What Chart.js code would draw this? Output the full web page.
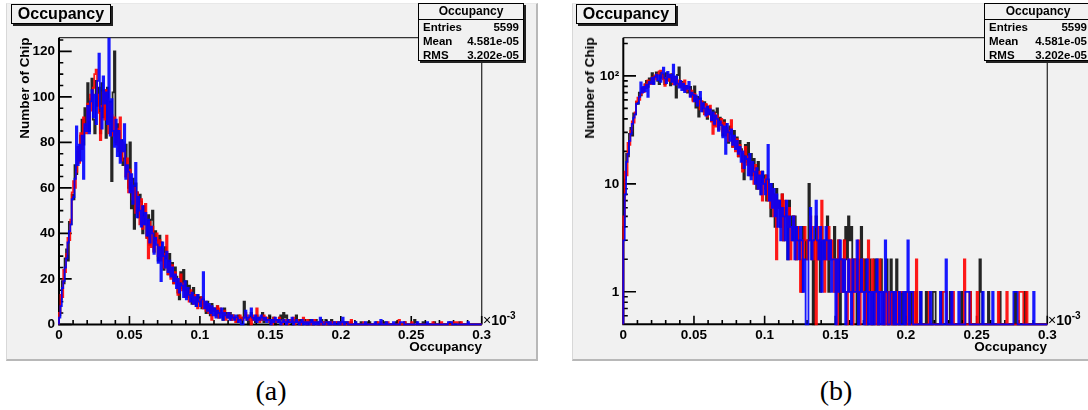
<!DOCTYPE html>
<html>
<head>
<meta charset="utf-8">
<script src="https://cdn.jsdelivr.net/npm/chart.js@4.4.1/dist/chart.umd.min.js"></script>
<style>
  body { margin:0; background:#fff; width:1088px; height:410px; overflow:hidden; position:relative; font-family:"Liberation Sans", Arial, sans-serif; }
  .pad { position:absolute; top:3px; width:529px; height:355px; background:#f1f1f1; border-left:1px solid #d8d8d8; border-top:1px solid #e8e8e8; border-right:2px solid #b8b8b8; border-bottom:2px solid #b8b8b8; }
  canvas { position:absolute; top:3px; z-index:1; }
  .t { position:absolute; z-index:2; font-weight:bold; color:#000; white-space:nowrap; font-size:13.5px; line-height:16px; }
  .ytitle { transform:translate(-50%,-50%) rotate(-90deg); }
  .xtitle { transform:translate(-100%,-50%); }
  .titlebox { position:absolute; z-index:2; top:4px; width:100px; height:20px; box-sizing:border-box; border:1px solid #000; box-shadow:2px 2px 0 #222; background:#f1f1f1; font-weight:bold; font-size:16px; text-align:center; line-height:18px; }
  .stats { position:absolute; z-index:2; top:3px; height:58px; box-sizing:border-box; border:1px solid #000; box-shadow:2px 2px 0 #222; background:#f1f1f1; font-weight:bold; }
  .stats .hd { height:15px; line-height:15px; text-align:center; font-size:12px; border-bottom:1px solid #000; }
  .stats .row { display:flex; justify-content:space-between; height:14px; line-height:14px; font-size:11.5px; padding:0 4px; }
  .expo { position:absolute; z-index:2; font-weight:bold; font-size:14px; line-height:14px; }
  .expo sup { font-size:10px; vertical-align:6px; line-height:0; }
  .cap { position:absolute; z-index:2; top:375px; transform:translateX(-50%); font-family:"Liberation Serif","Times New Roman",serif; font-size:28px; line-height:32px; }
</style>
</head>
<body>
<div class="pad" style="left:6px"></div>
<div class="pad" style="left:572px"></div>
<canvas id="linChart" width="531" height="357" style="left:6px"></canvas>
<canvas id="logChart" width="531" height="357" style="left:572px"></canvas>

<div class="titlebox" style="left:11px">Occupancy</div>
<div class="titlebox" style="left:576px">Occupancy</div>

<div class="stats" style="left:418px;width:106px">
  <div class="hd">Occupancy</div>
  <div class="row"><span>Entries</span><span>5599</span></div>
  <div class="row"><span>Mean</span><span>4.581e-05</span></div>
  <div class="row"><span>RMS</span><span>3.202e-05</span></div>
</div>
<div class="stats" style="left:984px;width:108px">
  <div class="hd">Occupancy</div>
  <div class="row"><span>Entries</span><span>5599</span></div>
  <div class="row"><span>Mean</span><span>4.581e-05</span></div>
  <div class="row"><span>RMS</span><span>3.202e-05</span></div>
</div>

<div class="t ytitle" style="left:25px;top:88px">Number of Chip</div>
<div class="t ytitle" style="left:590px;top:88px">Number of Chip</div>
<div class="t xtitle" style="left:482px;top:347px">Occupancy</div>
<div class="t xtitle" style="left:1047px;top:347px">Occupancy</div>
<div class="expo" style="left:483px;top:313px"><span style="font-weight:normal">×</span>10<sup>-3</sup></div>
<div class="expo" style="left:1048px;top:313px"><span style="font-weight:normal">×</span>10<sup>-3</sup></div>

<div class="cap" style="left:271px">(a)</div>
<div class="cap" style="left:836px">(b)</div>

<script>
// binning, in units of 10^-3
const xMin = 0;
const xMax = 0.3;
const nBins = 300;

// bin contents, 300 bins each
const blackCounts = [
  4,11,19,18,29,33,28,45,44,57, 55,70,66,76,72,83,90,79,95,86,
  106,85,99,108,90,84,107,96,104,84, 106,91,103,82,104,89,98,63,102,120,
  80,88,84,74,81,70,73,79,66,60, 80,51,64,42,62,58,47,57,54,40,
  52,44,38,48,35,46,50,32,41,37, 28,39,36,31,24,34,29,22,31,26,
  27,18,25,21,14,11,23,16,24,15, 19,12,17,14,9,16,12,8,13,10,
  12,7,11,9,5,10,8,4,9,6, 7,4,8,3,6,5,2,7,4,5,
  3,5,2,4,3,2,1,4,3,2, 3,10,4,2,0,3,5,2,3,1,
  4,2,3,2,5,1,3,2,2,4, 1,2,3,0,2,1,3,4,2,5,
  3,4,1,2,2,0,2,1,4,2, 1,2,0,1,2,1,0,2,1,2,
  0,1,2,1,0,1,2,0,1,2, 0,1,0,2,1,0,0,1,0,1,
  0,0,1,0,1,0,0,1,0,0, 1,0,0,0,1,0,0,0,0,1,
  1,0,0,0,0,1,0,0,0,0, 0,1,0,0,0,0,0,0,0,1,
  0,0,0,0,0,1,0,0,0,0, 0,0,2,1,0,0,0,0,1,0,
  0,0,0,0,0,0,1,0,0,0, 0,0,0,0,0,0,0,1,0,0,
  0,0,0,0,1,0,0,0,0,0, 0,0,0,0,0,0,0,0,0,0
];
const redCounts = [
  5,13,12,24,23,31,38,37,46,58, 63,60,67,78,71,84,77,91,87,84,
  97,90,101,94,104,110,112,101,93,81, 96,102,90,103,99,84,97,92,83,91,
  79,86,76,91,72,80,76,65,73,58, 68,63,55,60,49,58,52,44,55,42,
  47,53,38,29,45,34,43,32,37,40, 30,37,28,33,25,31,39,22,27,20,
  26,18,23,20,13,19,22,15,18,12, 16,13,10,15,12,9,13,10,7,11,
  9,12,7,10,6,9,5,8,2,7, 6,4,8,3,7,5,4,6,2,4,
  5,3,2,4,3,1,3,2,4,3, 2,3,5,4,2,3,0,4,2,3,
  7,2,1,3,2,4,2,3,2,1, 2,0,3,2,1,2,3,1,0,2,
  1,2,0,1,2,1,3,0,1,2, 1,0,1,3,1,0,2,1,0,1,
  0,2,1,0,0,1,0,1,0,1, 0,0,1,0,1,0,1,1,1,0,
  0,1,0,0,0,1,0,2,0,0, 0,0,0,0,0,0,1,0,0,0,
  0,0,0,0,0,0,1,1,1,0, 0,0,0,1,0,0,0,0,0,0,
  0,2,0,0,0,1,0,0,0,0, 1,0,0,0,0,0,0,0,0,0,
  0,0,0,0,0,1,0,0,0,0, 0,1,0,0,0,0,0,0,0,0,
  1,1,1,0,0,1,0,0,0,0, 0,0,0,0,0,0,0,0,0,0
];
const blueCounts = [
  3,8,16,19,25,29,36,41,44,55, 56,64,87,70,79,72,83,64,88,85,
  96,84,98,103,91,101,88,107,119,95, 86,109,97,102,88,127,83,99,85,78,
  90,74,85,71,81,76,88,64,70,67, 58,66,53,61,71,47,56,50,43,52,
  44,49,39,46,36,43,40,31,38,35, 27,34,19,36,30,25,32,23,28,21,
  25,19,22,16,20,14,18,17,12,19, 11,16,13,10,14,9,12,8,13,10,
  8,11,23,7,10,6,9,5,8,4, 7,3,6,5,3,7,2,5,4,3,
  5,2,4,3,2,4,3,1,2,0, 0,3,6,2,3,4,7,3,2,4,
  1,3,2,4,3,2,3,1,2,2, 0,2,1,3,2,1,2,0,1,2,
  1,0,2,1,1,3,0,1,2,1, 0,1,2,0,1,0,1,0,1,2,
  0,1,0,1,0,3,1,0,0,1, 1,0,1,0,0,1,0,0,1,0,
  1,3,0,1,1,0,0,0,0,0, 1,0,0,0,0,0,0,1,0,0,
  0,0,0,0,1,0,0,0,2,0, 0,0,1,0,0,0,0,1,0,0,
  0,0,1,1,1,0,0,0,0,0, 0,0,0,0,1,0,0,0,0,0,
  0,1,0,0,0,0,0,0,0,0, 0,0,0,0,0,0,1,1,1,0,
  0,0,0,0,0,0,0,0,0,0, 1,0,0,0,0,0,0,0,0,0
];

// axis ticks
const xMajor = [0, 0.05, 0.1, 0.15, 0.2, 0.25, 0.3];
const xLabels = ['0', '0.05', '0.1', '0.15', '0.2', '0.25', '0.3'];
const yLinMajor = [0, 20, 40, 60, 80, 100, 120];
const yLinLabels = ['0', '20', '40', '60', '80', '100', '120'];
const yLogMajor = [1, 10, 100];
const yLogLabels = ['1', '10', '10²'];
const yLinMax = 126;
const yLogMin = 0.5;
const yLogMax = 226;

Chart.defaults.font.family = '"Liberation Sans", Arial, sans-serif';

const tickFont = { size: 13.5, weight: 'bold' };

function histPoints(counts, floor) {
  const w = (xMax - xMin) / nBins;
  const pts = [{ x: xMin, y: floor }];
  counts.forEach((c, i) => pts.push({ x: xMin + i * w, y: Math.max(c, floor) }));
  pts.push({ x: xMax, y: Math.max(counts[counts.length - 1], floor) });
  pts.push({ x: xMax, y: floor });
  return pts;
}

function minorBetween(majors, parts) {
  const out = [];
  for (let i = 0; i < majors.length - 1; i++) {
    const step = (majors[i + 1] - majors[i]) / parts;
    for (let k = 1; k < parts; k++) out.push(majors[i] + k * step);
  }
  return out;
}

// ROOT style frame: ticks pointing into the pad
const rootFrame = {
  id: 'rootFrame',
  beforeDatasetsDraw(chart, args, opts) {
    const { ctx, chartArea: a, scales } = chart;
    ctx.save();
    ctx.strokeStyle = '#333';
    ctx.lineWidth = 1.3;
    ctx.beginPath();
    ctx.moveTo(a.left, a.top);
    ctx.lineTo(a.right, a.top);
    ctx.lineTo(a.right, a.bottom);
    ctx.stroke();

    ctx.strokeStyle = '#000';
    ctx.lineWidth = 2;
    ctx.beginPath();
    ctx.moveTo(a.left, a.top);
    ctx.lineTo(a.left, a.bottom);
    ctx.lineTo(a.right, a.bottom);
    ctx.stroke();

    ctx.lineWidth = 1.6;
    ctx.beginPath();
    opts.xTicks.forEach(([v, len]) => {
      const px = scales.x.getPixelForValue(v);
      ctx.moveTo(px, a.bottom);
      ctx.lineTo(px, a.bottom - len);
    });
    opts.yTicks.forEach(([v, len]) => {
      const py = scales.y.getPixelForValue(v);
      if (py < a.top - 0.5) return;
      ctx.moveTo(a.left, py);
      ctx.lineTo(a.left + len, py);
    });
    ctx.stroke();
    ctx.restore();
  }
};

function makeChart(id, logY, area) {
  const floor = logY ? yLogMin : 0;
  const W = 531, H = 357;
  const xTicks = xMajor.map(v => [v, 8.5]).concat(minorBetween(xMajor, 5).map(v => [v, 4.3]));
  let yTicks;
  if (logY) {
    const minors = [0.6, 0.7, 0.8, 0.9];
    yLogMajor.forEach(m => { for (let k = 2; k <= 9; k++) minors.push(m * k); });
    yTicks = yLogMajor.map(v => [v, 12.7]).concat(minors.filter(v => v <= yLogMax).map(v => [v, 4.5]));
  } else {
    yTicks = yLinMajor.map(v => [v, 12.7]).concat(minorBetween(yLinMajor.concat([140]), 4).filter(v => v <= yLinMax).map(v => [v, 4.3]));
  }
  const line = (label, counts, color) => ({
    label,
    data: histPoints(counts, floor),
    borderColor: color,
    borderWidth: 1.8,
    stepped: 'before',
    pointRadius: 0,
    fill: false,
    clip: { left: 2, top: 0, right: 2, bottom: 2 }
  });
  return new Chart(document.getElementById(id), {
    type: 'line',
    data: {
      datasets: [
        line('blue', blueCounts, 'rgba(0,0,255,0.9)'),
        line('red', redCounts, 'rgba(255,0,0,0.9)'),
        line('black', blackCounts, 'rgba(0,0,0,0.85)')
      ]
    },
    options: {
      responsive: false,
      animation: false,
      devicePixelRatio: 1,
      layout: { padding: { left: 0, top: area.top, right: W - area.right, bottom: 0 } },
      plugins: {
        legend: { display: false },
        tooltip: { enabled: false },
        rootFrame: { xTicks, yTicks }
      },
      scales: {
        x: {
          type: 'linear',
          min: xMin,
          max: xMax,
          afterFit(s) { s.height = H - area.bottom; },
          afterBuildTicks(s) { s.ticks = xMajor.map(v => ({ value: v })); },
          ticks: { autoSkip: false, maxRotation: 0, padding: 3, color: '#000', font: tickFont, callback: (v, i) => xLabels[i] },
          grid: { display: false, drawTicks: false },
          border: { display: false }
        },
        y: {
          type: logY ? 'logarithmic' : 'linear',
          min: logY ? yLogMin : 0,
          max: logY ? yLogMax : yLinMax,
          afterFit(s) { s.width = area.left; },
          afterBuildTicks(s) { s.ticks = (logY ? yLogMajor : yLinMajor).map(v => ({ value: v })); },
          ticks: { autoSkip: false, padding: 4, color: '#000', font: tickFont, callback: (v, i) => (logY ? yLogLabels : yLinLabels)[i] },
          grid: { display: false, drawTicks: false },
          border: { display: false }
        }
      }
    },
    plugins: [rootFrame]
  });
}

makeChart('linChart', false, { left: 53, top: 34.7, right: 475.7, bottom: 321.4 });
makeChart('logChart', true, { left: 51.3, top: 34.7, right: 475.3, bottom: 321.3 });
</script>
</body>
</html>
